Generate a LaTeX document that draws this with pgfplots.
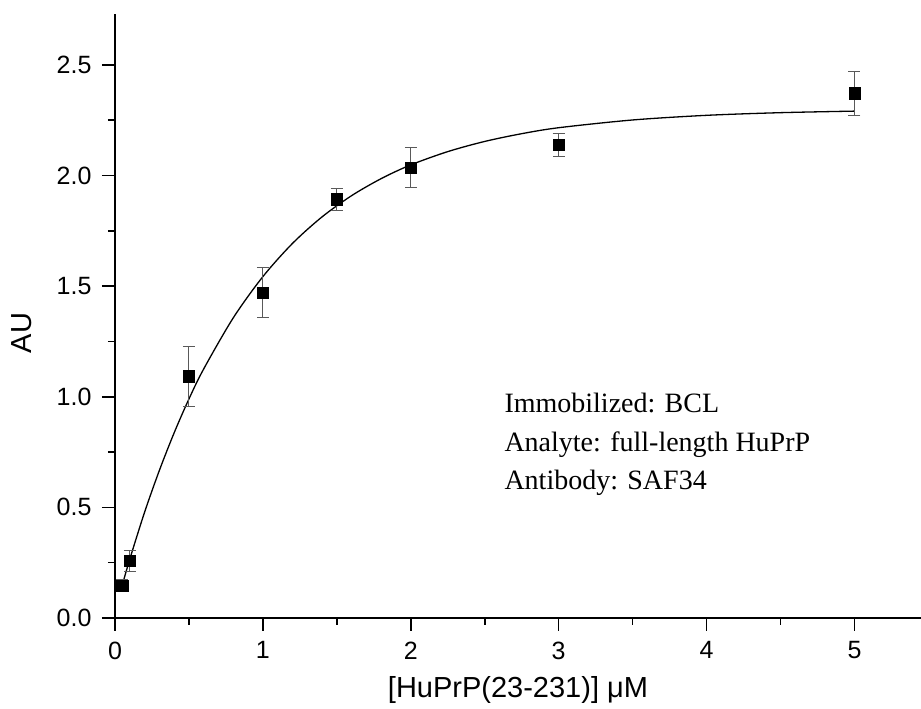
\documentclass[border=0pt]{standalone}
\usepackage{fontspec}
\setmainfont{Liberation Serif}
\setsansfont{Liberation Sans}
\usepackage{pgfplots}
\pgfplotsset{compat=1.18}
\begin{document}
\begin{tikzpicture}
\begin{axis}[
  at={(0pt,0pt)}, anchor=south west,
  scale only axis,
  width=806pt, height=604pt,
  xmin=0, xmax=5.45, ymin=0, ymax=2.73,
  axis x line*=bottom, axis y line*=left,
  axis line style={line width=1.6pt, -},
  xtick={0,1,2,3,4,5},
  minor xtick={0.5,1.5,2.5,3.5,4.5},
  ytick={0,0.5,1.0,1.5,2.0,2.5},
  minor ytick={0.25,0.75,1.25,1.75,2.25},
  yticklabels={0.0,0.5,1.0,1.5,2.0,2.5},
  tick align=outside,
  major tick length=13pt, minor tick length=7pt,
  every tick/.style={line width=1.6pt, black},
  /pgf/number format/assume math mode=true,
  tick label style={font=\fontsize{25}{30}\selectfont\sffamily, inner sep=0pt},
  xticklabel style={anchor=north, yshift=-10.4pt},
  yticklabel style={anchor=east, xshift=-10.3pt},
  xlabel={[HuPrP(23-231)] μM},
  ylabel={AU},
  xlabel style={at={(axis description cs:0.5,-0.119)}, anchor=center},
  ylabel style={at={(axis description cs:-0.1154,0.472)}, anchor=center},
  label style={font=\fontsize{29}{34}\selectfont\sffamily},
  clip=false,
]
\addplot[black, line width=1.3pt, smooth] coordinates {
(0.05,0.151)(0.1,0.266)(0.2,0.478)(0.3,0.667)(0.4,0.837)(0.5,0.990)
(0.6,1.126)(0.8,1.357)(1.0,1.543)(1.2,1.693)(1.4,1.813)(1.6,1.909)
(1.8,1.986)(2.0,2.048)(2.25,2.108)(2.5,2.154)(2.75,2.189)(3.0,2.216)
(3.5,2.251)(4.0,2.272)(4.5,2.284)(5.0,2.291)};
\addplot[only marks, mark=square*, mark size=5.7pt, mark options={black, fill=black},
  error bars/.cd, y dir=both, y explicit,
  error bar style={line width=1pt, gray!70!black},
  error mark options={rotate=90, mark size=6pt, line width=1pt, gray!70!black}]
  coordinates {
  (0.05,0.147) +- (0,0.025)
  (0.1,0.258) +- (0,0.047)
  (0.5,1.093) +- (0,0.136)
  (1.0,1.471) +- (0,0.112)
  (1.5,1.893) +- (0,0.050)
  (2.0,2.036) +- (0,0.090)
  (3.0,2.139) +- (0,0.051)
  (5.0,2.372) +- (0,0.100)
};
\node[anchor=base west, font=\fontsize{28}{34}\selectfont] at (axis cs:2.61,0.928) {Immobilized: BCL};
\node[anchor=base west, font=\fontsize{28}{34}\selectfont] at (axis cs:2.61,0.754) {Analyte: full-length HuPrP};
\node[anchor=base west, font=\fontsize{28}{34}\selectfont] at (axis cs:2.61,0.581) {Antibody: SAF34};
\end{axis}
\pgfresetboundingbox
\path[use as bounding box] (-115pt,-91pt) rectangle (806pt,618pt);
\end{tikzpicture}
\end{document}
